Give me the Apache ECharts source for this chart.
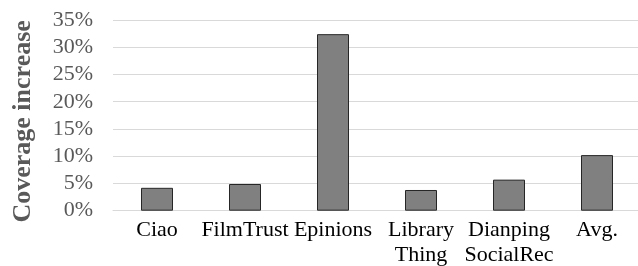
<!DOCTYPE html>
<html>
<head>
<meta charset="utf-8">
<script src="https://cdn.jsdelivr.net/npm/echarts@6/dist/echarts.min.js"></script>
<style>
  html, body { margin: 0; padding: 0; background: #fff; }
  #chart { width: 638px; height: 266px; }
</style>
</head>
<body>
<div id="chart"></div>
<script>
// data
const categories = ['Ciao', 'FilmTrust', 'Epinions', 'Library\nThing', 'Dianping\nSocialRec', 'Avg.'];
const coverageIncrease = [4.2, 4.9, 32.4, 3.8, 5.7, 10.2];
const yTicks = [0, 5, 10, 15, 20, 25, 30, 35];

const chart = echarts.init(document.getElementById('chart'));

const font = '"Liberation Serif", "Times New Roman", serif';

const option = {
  animation: false,
  backgroundColor: '#fff',
  grid: {
    left: 113,
    top: 20,
    width: 528,
    height: 190.7,
    containLabel: false,
    outerBoundsMode: 'none'
  },
  xAxis: {
    type: 'category',
    data: categories,
    axisLine: { show: true, lineStyle: { color: '#d9d9d9', width: 1 } },
    axisTick: { show: false },
    axisLabel: {
      color: '#000',
      fontFamily: font,
      fontSize: 22,
      lineHeight: 25,
      margin: 7,
      interval: 0
    }
  },
  yAxis: {
    type: 'value',
    min: yTicks[0],
    max: yTicks[yTicks.length - 1],
    interval: 5,
    name: 'Coverage increase',
    nameLocation: 'middle',
    nameGap: 77,
    nameTextStyle: {
      color: '#595959',
      fontFamily: font,
      fontSize: 26,
      fontWeight: 'bold',
      padding: [0, 12, 0, 0]
    },
    axisLine: { show: false },
    axisTick: { show: false },
    splitLine: { lineStyle: { color: '#d9d9d9', width: 1 } },
    axisLabel: {
      color: '#595959',
      fontFamily: font,
      fontSize: 22,
      margin: 20,
      formatter: v => v + '%'
    }
  },
  series: [
    {
      name: 'Coverage increase',
      type: 'bar',
      data: coverageIncrease,
      barWidth: 32,
      itemStyle: {
        color: '#808080',
        borderColor: '#262626',
        borderWidth: 1
      }
    }
  ]
};

chart.setOption(option);
</script>
</body>
</html>
